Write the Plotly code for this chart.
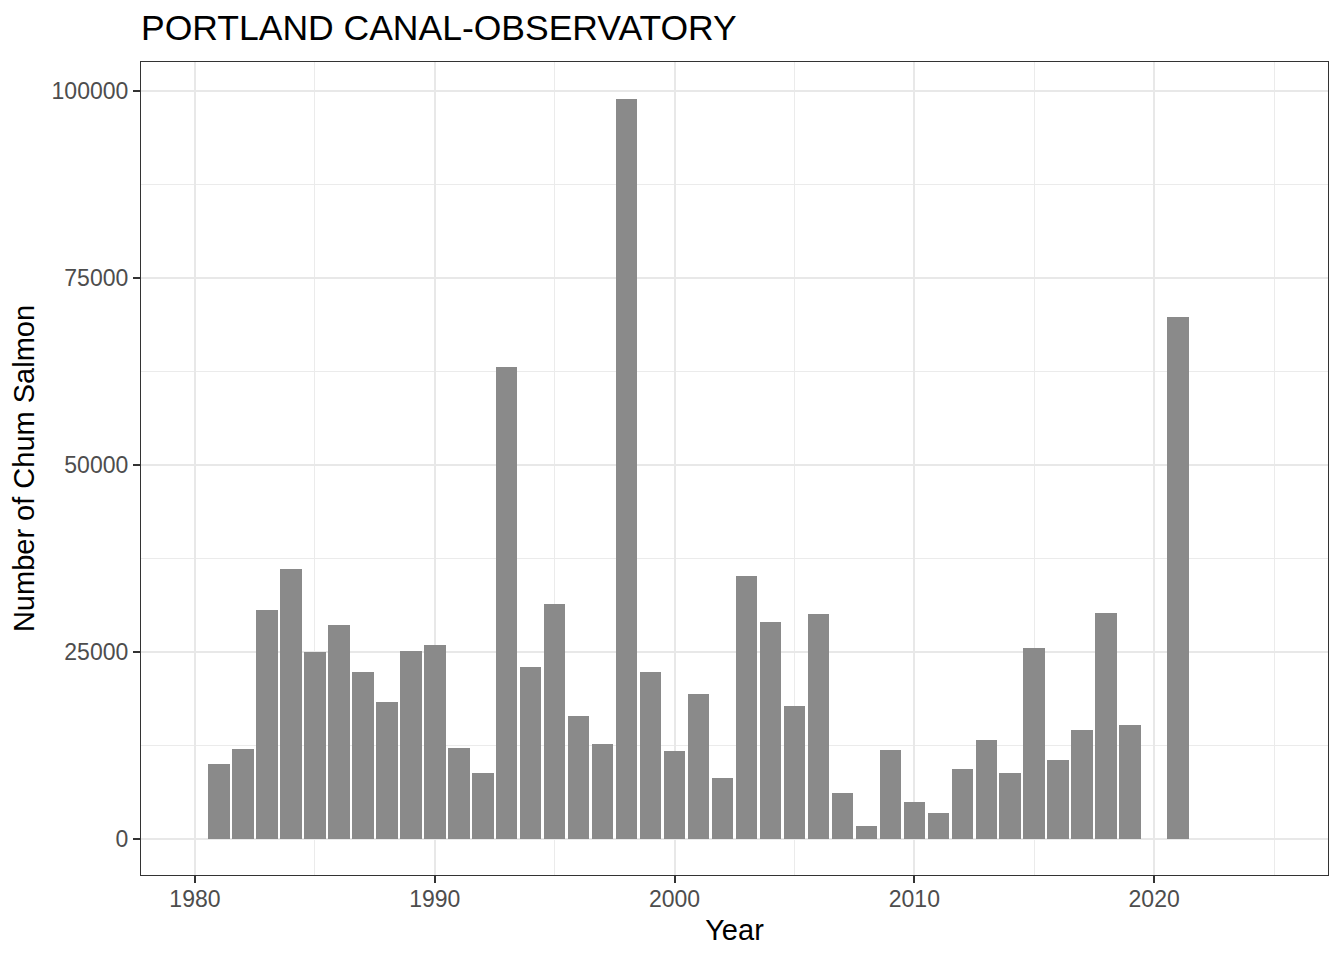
import plotly.graph_objects as go

years = [1981, 1982, 1983, 1984, 1985, 1986, 1987, 1988, 1989, 1990,
         1991, 1992, 1993, 1994, 1995, 1996, 1997, 1998, 1999, 2000,
         2001, 2002, 2003, 2004, 2005, 2006, 2007, 2008, 2009, 2010,
         2011, 2012, 2013, 2014, 2015, 2016, 2017, 2018, 2019, 2021]
counts = [10000, 12000, 30600, 36100, 25000, 28600, 22300, 18300, 25100, 25900,
          12150, 8800, 63100, 23000, 31400, 16400, 12700, 98900, 22300, 11750,
          19400, 8150, 35150, 29000, 17750, 30050, 6150, 1750, 11900, 4950,
          3450, 9350, 13200, 8800, 25500, 10550, 14550, 30200, 15250, 69800]

title_text = "PORTLAND CANAL-OBSERVATORY"
x_title = "Year"
y_title = "Number of Chum Salmon"

FONT = "Liberation Sans, Arial, Helvetica"

fig = go.Figure(go.Bar(x=years, y=counts, width=0.9,
                       marker=dict(color="#8A8A8A", line=dict(width=0))))

axis_common = dict(
    showline=True, mirror=True, linecolor="#333333", linewidth=1.2,
    ticks="outside", ticklen=7, tickcolor="#333333", tickwidth=2,
    tickfont=dict(family=FONT, size=23, color="#4D4D4D"),
    showgrid=True, gridcolor="#E8E8E8", gridwidth=2, zeroline=False,
)

# page is offset by the browser's default 8px body margin
W, H = 1336, 952
fig.update_layout(
    width=W, height=H,
    margin=dict(l=133, r=16, t=54, b=85),
    paper_bgcolor="white", plot_bgcolor="white",
    font=dict(family=FONT, color="black"),
    title=dict(text=title_text, x=133/W, xanchor="left", y=1-20/H, yanchor="middle",
               font=dict(size=35.5, color="black", family=FONT)),
    bargap=0,
    showlegend=False,
    xaxis=dict(range=[1977.75, 2027.25], tickmode="linear", tick0=1980, dtick=10,
               ticklabelstandoff=-4,
               title=dict(text=x_title, font=dict(size=29, color="black"), standoff=8),
               minor=dict(dtick=5, tick0=1980, showgrid=True, gridcolor="#EBEBEB", gridwidth=1, ticks=""),
               **axis_common),
    yaxis=dict(range=[-4813, 103877], tickmode="linear", tick0=0, dtick=25000, tickformat="d",
               title=dict(text=y_title, font=dict(size=29, color="black"), standoff=10),
               minor=dict(dtick=12500, tick0=0, showgrid=True, gridcolor="#EBEBEB", gridwidth=1, ticks=""),
               **axis_common),
)

fig.write_html("out.html")
